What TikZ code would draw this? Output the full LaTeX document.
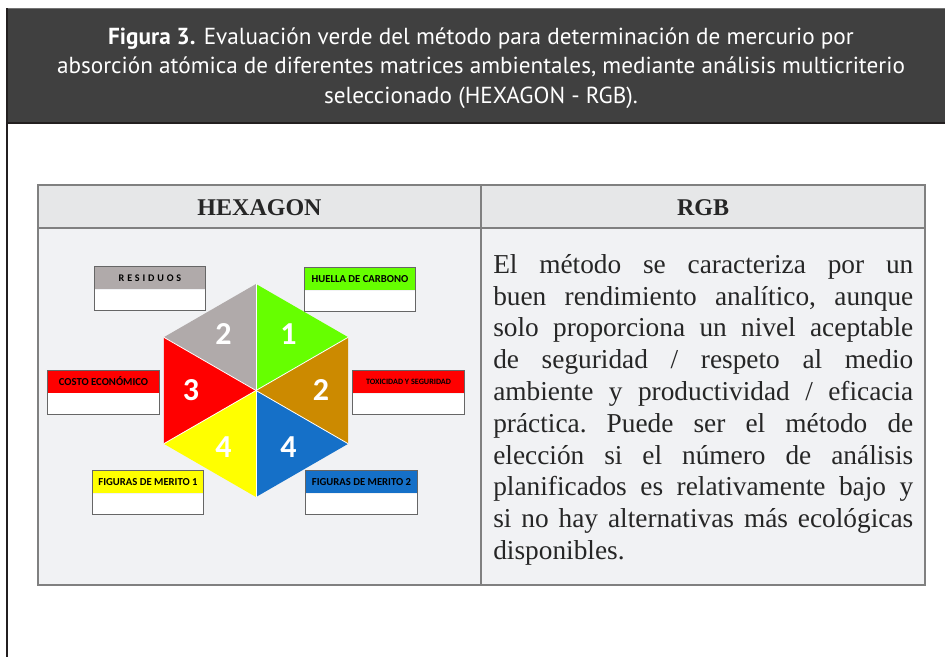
\documentclass[tikz,border=0pt]{standalone}
\usepackage{fontspec}
\setmainfont{Liberation Serif}
\newfontfamily\titlefont{PT Sans}
\newfontfamily\labelfont{Carlito}
\usetikzlibrary{positioning}

\definecolor{bandgray}{HTML}{404040}
\definecolor{framedark}{HTML}{231F20}
\definecolor{headfill}{HTML}{E6E7E8}
\definecolor{bodyfill}{HTML}{F1F2F4}
\definecolor{tableline}{HTML}{808080}
\definecolor{hexgray}{HTML}{B0AAAA}
\definecolor{hexgreen}{HTML}{66FF00}
\definecolor{hexorange}{HTML}{CC8A00}
\definecolor{hexblue}{HTML}{1570C8}
\definecolor{hexred}{HTML}{FF0000}
\definecolor{hexyellow}{HTML}{FFFF00}

\tikzset{
  titletext/.style={text=white, align=center, font=\titlefont\fontsize{17.4}{22}\selectfont},
  headtext/.style={text=black!85, font=\bfseries\fontsize{18}{22}\selectfont},
  bodytext/.style={text=black!85, text width=315pt, align=justify, inner sep=0pt, anchor=north west, font=\frenchspacing\fontsize{20.5}{23.85}\selectfont},
  labelband/.style={minimum width=83.25pt, minimum height=16.5pt, inner sep=0pt, font=\labelfont\bfseries\fontsize{8}{9}\selectfont},
  labelblank/.style={fill=white, minimum width=83.25pt, minimum height=15.75pt, inner sep=0pt},
  labelframe/.style={draw=black!60, line width=0.9pt},
  hexnum/.style={text=white, font=\labelfont\bfseries\fontsize{24}{24}\selectfont}
}

\begin{document}
\begin{tikzpicture}[x=0.75pt, y=-0.75pt]
  \useasboundingbox (0,0) rectangle (945,657);

  % title band
  \fill[bandgray] (7,8) rectangle (945,123);
  \draw[black!55, line width=0.75pt] (7,8) -- (945,8);
  \draw[framedark, line width=1.5pt] (7,123) -- (945,123);
  \draw[framedark, line width=1.5pt] (7,8) -- (7,657);
  \node[titletext] (titulo) at (481,68) {\textbf{Figura 3.} Evaluación verde del método para determinación de mercurio por\\
    absorción atómica de diferentes matrices ambientales, mediante análisis multicriterio\\
    seleccionado (HEXAGON - RGB).};

  % table
  \fill[headfill] (38,185) rectangle (925,228);
  \fill[bodyfill] (38,228) rectangle (925,585);
  \draw[tableline, line width=1pt] (38,185) rectangle (925,585);
  \draw[tableline, line width=1pt] (38,228) -- (925,228);
  \draw[tableline, line width=1pt] (481,185) -- (481,585);
  \node[headtext] (hexhead) at (259.5,208) {HEXAGON};
  \node[headtext] (rgbhead) at (703,208) {RGB};

  % hexagon
  \begin{scope}[shift={(256,390.5)}]
    \foreach \ang/\col/\num in {90/hexgray/2, 150/hexred/3, 210/hexyellow/4, 270/hexblue/4, 330/hexorange/2, 30/hexgreen/1}
    {
      \fill[\col] (0,0) -- (-\ang:106.5) -- (-\ang-60:106.5) -- cycle;
      \node[hexnum] (num\ang) at (-\ang-30:65) {\num};
    }
    \foreach \ang in {30,90,...,330}
      \draw[white, line width=0.6pt] (0,0) -- (\ang:106.5);
  \end{scope}

  % criteria boxes
  \foreach \nm/\cx/\cy/\col/\txt in {
      residuos/150/278/hexgray/{\fontsize{7.6}{8}\selectfont\addfontfeature{LetterSpace=28}RESIDUOS},
      huella/360/279/hexgreen/{HUELLA DE CARBONO},
      costo/103.5/381.5/hexred/{COSTO ECONÓMICO},
      toxicidad/408.5/382/hexred/{\fontsize{6.1}{6.5}\selectfont TOXICIDAD Y SEGURIDAD},
      merito1/148/482/hexyellow/{FIGURAS DE MERITO 1},
      merito2/361.5/482/hexblue/{FIGURAS DE MERITO 2}}
  {
    \node[labelband, fill=\col] (\nm) at (\cx,\cy) {\txt};
    \node[labelblank, below=0pt of \nm] (\nm-b) {};
    \draw[labelframe] (\nm.north west) rectangle (\nm-b.south east);
  }

  % RGB text
  \node[bodytext] (rgbtext) at (493,254) {El método se caracteriza por un\linebreak
    buen rendimiento analítico, aunque\linebreak
    solo proporciona un nivel aceptable\linebreak
    de seguridad / respeto al medio\linebreak
    ambiente y productividad / eficacia\linebreak
    práctica. Puede ser el método de\linebreak
    elección si el número de análisis\linebreak
    planificados es relativamente bajo y\linebreak
    si no hay alternativas más ecológicas\linebreak
    disponibles.};
\end{tikzpicture}
\end{document}
